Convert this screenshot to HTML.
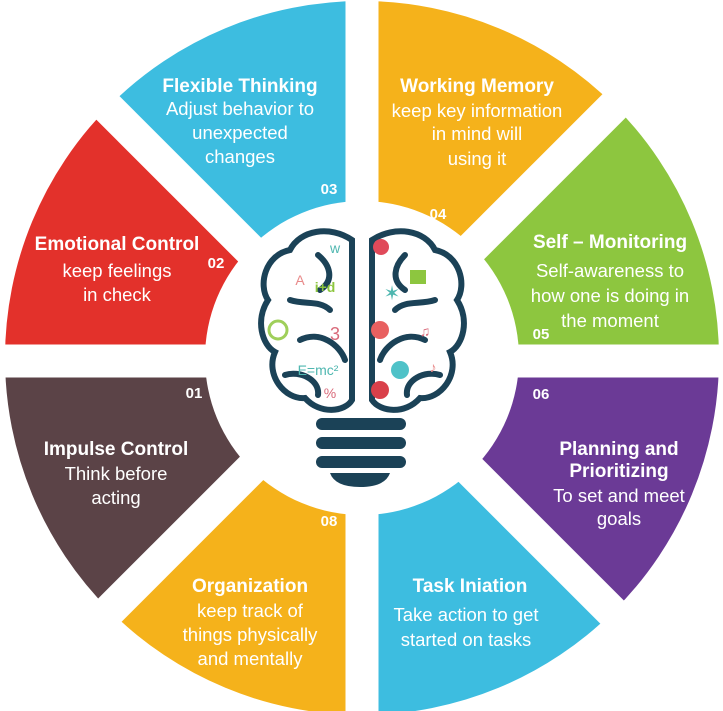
<!DOCTYPE html>
<html><head><meta charset="utf-8"><style>
html,body{margin:0;padding:0;background:#fff;overflow:hidden;width:723px;height:711px}
svg{display:block}
text{font-family:"Liberation Sans",sans-serif;fill:#fff;text-anchor:middle}
.t{font-weight:bold;font-size:19px}
.d{font-size:18.5px}
.n{font-weight:bold;font-size:15px}
</style></head><body>
<svg id="s" width="723" height="711" viewBox="0 0 723 711" xmlns="http://www.w3.org/2000/svg">
<g id="segs"></g>
<g stroke="#fff" stroke-width="33">
<line x1="362" y1="-50" x2="362" y2="760"/>
<line x1="-50" y1="361" x2="780" y2="361"/>
<line x1="-150" y1="-150" x2="870" y2="870"/>
<line x1="-150" y1="870" x2="870" y2="-150"/>
</g>
<circle cx="362" cy="358" r="157" fill="#fff"/>
<!-- brain -->
<g fill="none" stroke="#1b4257" stroke-width="6" stroke-linecap="round">
<path d="M352 240 C330 225 300 230 290 250 C265 255 258 285 268 300 C255 320 262 345 275 352 C265 375 285 400 305 398 C320 415 345 412 352 400 Z"/>
<path d="M372 240 C395 225 425 230 435 250 C460 255 467 285 457 300 C470 320 463 345 450 352 C460 375 440 400 420 398 C405 415 380 412 372 400 Z"/>
<path d="M318 255 C330 265 335 280 320 290 M290 300 C305 305 320 300 330 310 M300 340 C320 330 340 345 345 360 M285 375 C300 370 320 380 318 395"/>
<path d="M405 255 C395 265 390 280 405 290 M435 300 C420 305 405 300 395 310 M425 340 C405 330 385 345 380 360 M440 375 C425 370 405 380 407 395"/>
</g>
<g stroke="#1b4257" stroke-width="12" stroke-linecap="round">
<line x1="322" y1="424" x2="400" y2="424"/>
<line x1="322" y1="443" x2="400" y2="443"/>
<line x1="322" y1="462" x2="400" y2="462"/>
</g>
<path d="M330 473 L390 473 Q385 487 360 487 Q335 487 330 473 Z" fill="#1b4257"/>
<g style="font-family:'Liberation Sans',sans-serif" font-size="14">
<text x="300" y="285" style="fill:#e88a8a">A</text>
<text x="325" y="292" style="fill:#8dc63f;font-weight:bold">i+d</text>
<text x="335" y="253" style="fill:#4fb7b0">w</text>
<circle cx="278" cy="330" r="9" fill="none" stroke="#9fcf5a" stroke-width="3"/>
<text x="335" y="340" style="fill:#d96a7a;font-size:18px">3</text>
<text x="318" y="375" style="fill:#4fb7b0">E=mc²</text>
<text x="330" y="398" style="fill:#d96a7a">%</text>
<circle cx="381" cy="247" r="8" fill="#e04a5a"/>
<rect x="410" y="270" width="16" height="14" fill="#8dc63f"/>
<text x="392" y="300" style="fill:#4fb7b0;font-size:20px">✶</text>
<circle cx="380" cy="330" r="9" fill="#e86060"/>
<text x="425" y="336" style="fill:#d96a7a">♫</text>
<circle cx="400" cy="370" r="9" fill="#4fc2c8"/>
<circle cx="380" cy="390" r="9" fill="#d9404a"/>
<text x="433" y="372" style="fill:#e88a8a">♪</text>
</g>
<!-- text -->
<text class="t" x="240" y="92">Flexible Thinking</text>
<text class="d" x="240" y="115">Adjust behavior to</text>
<text class="d" x="240" y="139">unexpected</text>
<text class="d" x="240" y="163">changes</text>
<text class="n" x="329" y="194">03</text>

<text class="t" x="477" y="92">Working Memory</text>
<text class="d" x="477" y="117">keep key information</text>
<text class="d" x="477" y="140">in mind will</text>
<text class="d" x="477" y="165">using it</text>
<text class="n" x="438" y="219">04</text>

<text class="t" x="610" y="248">Self – Monitoring</text>
<text class="d" x="610" y="277">Self-awareness to</text>
<text class="d" x="610" y="302">how one is doing in</text>
<text class="d" x="610" y="327">the moment</text>
<text class="n" x="541" y="339">05</text>

<text class="n" x="541" y="399">06</text>
<text class="t" x="619" y="455">Planning and</text>
<text class="t" x="619" y="477">Prioritizing</text>
<text class="d" x="619" y="502">To set and meet</text>
<text class="d" x="619" y="525">goals</text>

<text class="n" x="496" y="499">07</text>
<text class="t" x="470" y="592">Task Iniation</text>
<text class="d" x="466" y="621">Take action to get</text>
<text class="d" x="466" y="646">started on tasks</text>

<text class="n" x="329" y="526">08</text>
<text class="t" x="250" y="592">Organization</text>
<text class="d" x="250" y="617">keep track of</text>
<text class="d" x="250" y="641">things physically</text>
<text class="d" x="250" y="665">and mentally</text>

<text class="n" x="194" y="398">01</text>
<text class="t" x="116" y="455">Impulse Control</text>
<text class="d" x="116" y="480">Think before</text>
<text class="d" x="116" y="504">acting</text>

<text class="t" x="117" y="250">Emotional Control</text>
<text class="n" x="216" y="268">02</text>
<text class="d" x="117" y="277">keep feelings</text>
<text class="d" x="117" y="301">in check</text>
</svg>
<script>
(function(){
var cx=362,cy=358,R=357,r=140;
var cols=[["#f5b21b",-90],["#8dc63f",-45],["#6b3a96",0],["#3dbde0",45],["#f5b21b",90],["#5b4347",135],["#e3312b",180],["#3dbde0",225]];
var g=document.getElementById('segs'),h='';
function p(a,rad){a=a*Math.PI/180;return (cx+rad*Math.cos(a)).toFixed(1)+' '+(cy+rad*Math.sin(a)).toFixed(1);}
cols.forEach(function(c){var a=c[1],b=a+45;
h+='<path fill="'+c[0]+'" d="M'+p(a,r)+' L'+p(a,R)+' A'+R+' '+R+' 0 0 1 '+p(b,R)+' L'+p(b,r)+' A'+r+' '+r+' 0 0 0 '+p(a,r)+' Z"/>';});
g.innerHTML=h;
})();
</script>
</body></html>
